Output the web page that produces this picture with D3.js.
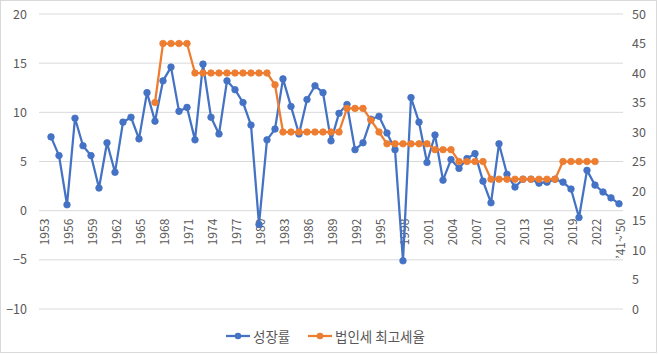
<!DOCTYPE html>
<html><head><meta charset="utf-8">
<script src="https://cdn.jsdelivr.net/npm/d3@7"></script>
<style>
html,body{margin:0;padding:0;background:#fff;}
svg{display:block;}
text{font-family:"Noto Sans CJK KR","Noto Sans",sans-serif;fill:#595959;}
</style></head>
<body><svg id="chart" width="658" height="355"></svg>
<script>
const categories = ["1953","1954","1955","1956","1957","1958","1959","1960","1961","1962","1963","1964","1965","1966","1967","1968","1969","1970","1971","1972","1973","1974","1975","1976","1977","1978","1979","1980","1981","1982","1983","1984","1985","1986","1987","1988","1989","1990","1991","1992","1993","1994","1995","1996","1997","1998","1999","2000","2001","2002","2003","2004","2005","2006","2007","2008","2009","2010","2011","2012","2013","2014","2015","2016","2017","2018","2019","2020","2021","2022","2023","2024","\u201941~\u201950"];
const growth = [null,7.5,5.6,0.6,9.4,6.6,5.6,2.3,6.9,3.9,9.0,9.5,7.3,12.0,9.1,13.2,14.6,10.1,10.5,7.2,14.9,9.5,7.8,13.2,12.3,11.0,8.7,-1.4,7.2,8.3,13.4,10.6,7.8,11.3,12.7,12.0,7.1,9.9,10.8,6.2,6.9,9.3,9.6,7.9,6.2,-5.1,11.5,9.0,4.9,7.7,3.1,5.2,4.3,5.3,5.8,3.0,0.8,6.8,3.7,2.4,3.2,3.2,2.8,2.9,3.2,2.9,2.2,-0.7,4.1,2.6,1.9,1.3,0.7];
const taxRate = [null,null,null,null,null,null,null,null,null,null,null,null,null,null,35,45,45,45,45,40,40,40,40,40,40,40,40,40,40,38,30,30,30,30,30,30,30,30,34,34,34,32,30,28,28,28,28,28,28,27,27,27,25,25,25,25,22,22,22,22,22,22,22,22,22,25,25,25,25,25,null,null,null];
const leftTicks = [20,15,10,5,0,-5,-10];
const rightTicks = [50,45,40,35,30,25,20,15,10,5,0];
const seriesNames = ["성장률","법인세 최고세율"];
const colors = ["#4472C4","#ED7D31"];

const svg = d3.select("#chart");
svg.append("rect").attr("x",0.5).attr("y",0.5).attr("width",656).attr("height",352)
  .attr("fill","#fff").attr("stroke","#d9d9d9");

const x = d3.scaleBand().domain(categories).range([39,623]).padding(0);
const cx = c => x(c) + x.bandwidth()/2;
const yL = d3.scaleLinear().domain([-10,20]).range([309,14]);
const yR = d3.scaleLinear().domain([0,50]).range([309,14]);

// gridlines
svg.append("g").selectAll("line").data(leftTicks).join("line")
  .attr("x1",39).attr("x2",623).attr("y1",d=>yL(d)).attr("y2",d=>yL(d))
  .attr("stroke","#d9d9d9").attr("stroke-width",1);

// left axis
const axL = d3.axisLeft(yL).tickValues(leftTicks).tickSize(0).tickPadding(0);
const gL = svg.append("g").attr("transform","translate(27,0)").call(axL);
gL.select(".domain").remove();
gL.selectAll("text").attr("font-size","12.5px").attr("fill","#595959")
  .style("font-family","'Noto Sans CJK KR',sans-serif");

// right axis
const axR = d3.axisRight(yR).tickValues(rightTicks).tickSize(0).tickPadding(0);
const gR = svg.append("g").attr("transform","translate(632,0)").call(axR);
gR.select(".domain").remove();
gR.selectAll("text").attr("font-size","12.5px").attr("fill","#595959")
  .style("font-family","'Noto Sans CJK KR',sans-serif");

// category labels
const shown = categories.filter((c,i)=>i%3===0);
const axX = d3.axisBottom(x).tickValues(shown).tickSize(0).tickPadding(0);
const gX = svg.append("g").attr("transform",`translate(0,${yL(0)})`).call(axX);
gX.select(".domain").remove();
gX.selectAll("text")
  .attr("font-size","12px").attr("fill","#595959")
  .style("font-family","'Noto Sans CJK KR',sans-serif")
  .attr("text-anchor","end").attr("dy",null).attr("y",0)
  .attr("dominant-baseline","central")
  .attr("transform","translate(0,8) rotate(-90)");

function drawSeries(vals, scale, color){
  const data = categories.map((c,i)=>({c, v: vals[i]}));
  const line = d3.line().defined(d=>d.v!==null).x(d=>cx(d.c)).y(d=>scale(d.v));
  svg.append("path").datum(data).attr("fill","none").attr("stroke",color)
    .attr("stroke-width",2.25).attr("stroke-linejoin","round").attr("d",line);
  svg.append("g").selectAll("circle").data(data.filter(d=>d.v!==null)).join("circle")
    .attr("cx",d=>cx(d.c)).attr("cy",d=>scale(d.v)).attr("r",3.3)
    .attr("fill",color).attr("stroke",color).attr("stroke-width",0.75);
}
drawSeries(growth, yL, colors[0]);
drawSeries(taxRate, yR, colors[1]);

// legend
const legend = [{x:226, name:seriesNames[0], color:colors[0]},{x:308, name:seriesNames[1], color:colors[1]}];
const lg = svg.append("g").selectAll("g").data(legend).join("g")
  .attr("transform",d=>`translate(${d.x},336)`);
lg.append("line").attr("x1",0).attr("x2",24).attr("y1",0).attr("y2",0)
  .attr("stroke",d=>d.color).attr("stroke-width",2.25);
lg.append("circle").attr("cx",12).attr("cy",0).attr("r",3.3).attr("fill",d=>d.color);
lg.append("text").attr("x",27).attr("y",0).attr("dominant-baseline","central")
  .attr("font-size","13.5px").text(d=>d.name);
</script></body></html>
